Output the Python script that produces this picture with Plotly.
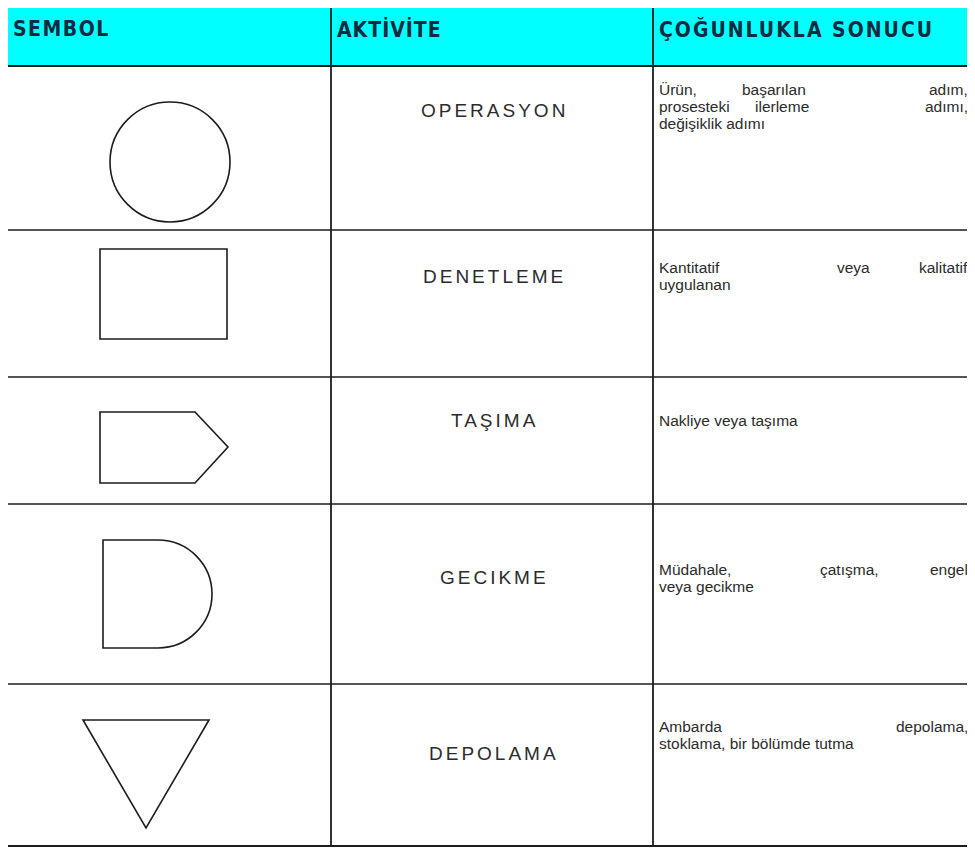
import plotly.graph_objects as go

# ---------------- data ----------------
headers = ["SEMBOL", "AKTİVİTE", "ÇOĞUNLUKLA SONUCU"]
symbols = ["circle", "rect", "pentagon", "delay", "triangle"]
activities = ["OPERASYON", "DENETLEME", "TAŞIMA", "GECIKME", "DEPOLAMA"]
results = [
    ["Ürün, başarılan adım,", "prosesteki ilerleme adımı,", "değişiklik adımı"],
    ["Kantitatif veya kalitatif", "uygulanan"],
    ["Nakliye veya taşıma"],
    ["Müdahale, çatışma, engel", "veya gecikme"],
    ["Ambarda depolama,", "stoklama, bir bölümde tutma"],
]

# ---------------- layout / geometry ----------------
W, H = 975, 848
OFF = 8  # page body margin compensation
col_x = [7, 331, 653, 974]
row_y = [3, 66, 230, 377, 504, 684, 846]
act_y = [110, 276, 420, 577, 753]
res_y = [89, 267, 420, 569, 726]
line_h = 17
res_x0, res_x1 = 657, 970
# left x of the middle words of justified lines (layout of the original spacing)
mid_word_x = [[[740], [753]], [[835]], [], [[818]], [[]]]
RES_FS = 15.5

LINE = "#1c1c1c"
TXT = "#2b2b2b"
HDR_TXT = "#0d2b40"
CYAN = "#00ffff"

shapes = []
annotations = []

# header background
shapes.append(dict(type="rect", xref="x", yref="y", x0=col_x[0], x1=col_x[-1],
                   y0=row_y[0], y1=row_y[1], fillcolor=CYAN, line=dict(width=0), layer="below"))

# grid lines
for i, y in enumerate(row_y):
    shapes.append(dict(type="line", x0=col_x[0], x1=col_x[-1], y0=y, y1=y,
                       line=dict(color=LINE, width=2 if i in (0, 1, len(row_y) - 1) else 1.7)))
for x in col_x:
    shapes.append(dict(type="line", x0=x, x1=x, y0=row_y[0], y1=row_y[-1],
                       line=dict(color=LINE, width=1.8)))

# header texts
hdr_ls = [1.5, 1.0, 2.0]
for i, h in enumerate(headers):
    annotations.append(dict(
        x=col_x[i] + 4, y=29, xref="x", yref="y", xanchor="left", yanchor="middle",
        text=f"<span style='letter-spacing:{hdr_ls[i]}px'><b>{h}</b></span>", showarrow=False,
        font=dict(family="Liberation Sans Narrow, DejaVu Sans Condensed, Liberation Sans",
                  size=21, color=HDR_TXT)))

# symbols
sym_style = dict(color=LINE, width=1.6)
k = 0.5523
for s in symbols:
    if s == "circle":
        shapes.append(dict(type="circle", x0=110, x1=230, y0=102, y1=222, line=sym_style))
    elif s == "rect":
        shapes.append(dict(type="rect", x0=100, x1=227, y0=249, y1=339, line=sym_style))
    elif s == "pentagon":
        shapes.append(dict(type="path", path="M100,412 L195,412 L228,447 L195,483 L100,483 Z",
                           line=sym_style))
    elif s == "delay":
        r = 54
        cx, cy = 158, 594
        p = (f"M103,{cy - r} L{cx},{cy - r} "
             f"C{cx + k * r},{cy - r} {cx + r},{cy - k * r} {cx + r},{cy} "
             f"C{cx + r},{cy + k * r} {cx + k * r},{cy + r} {cx},{cy + r} "
             f"L103,{cy + r} Z")
        shapes.append(dict(type="path", path=p, line=sym_style))
    elif s == "triangle":
        shapes.append(dict(type="path", path="M83,720 L209,720 L146,828 Z", line=sym_style))

# activity texts
mid = (col_x[1] + col_x[2]) / 2
for a, y in zip(activities, act_y):
    annotations.append(dict(
        x=mid + 2, y=y, xref="x", yref="y", xanchor="center", yanchor="middle",
        text=f"<span style='letter-spacing:3px'>{a}</span>", showarrow=False,
        font=dict(family="Liberation Sans, Arial", size=19, color=TXT)))

# result texts (justified like the original)
for lines, y0, mids in zip(results, res_y, mid_word_x):
    for li, line in enumerate(lines):
        y = y0 + li * line_h
        font = dict(family="Liberation Sans, Arial", size=RES_FS, color=TXT)
        words = line.split(" ")
        justified = li < len(mids) and len(words) > 1
        if not justified:
            annotations.append(dict(x=res_x0, y=y, xref="x", yref="y", xanchor="left",
                                    yanchor="middle", text=line, showarrow=False, font=font))
            continue
        xs = [res_x0] + mids[li]
        for wi, w in enumerate(words):
            if wi == len(words) - 1:
                annotations.append(dict(x=res_x1, y=y, xref="x", yref="y", xanchor="right",
                                        yanchor="middle", text=w, showarrow=False, font=font))
            else:
                annotations.append(dict(x=xs[wi], y=y, xref="x", yref="y", xanchor="left",
                                        yanchor="middle", text=w, showarrow=False, font=font))

fig = go.Figure()
fig.update_layout(
    width=W, height=H, margin=dict(l=0, r=0, t=0, b=0),
    paper_bgcolor="white", plot_bgcolor="white",
    xaxis=dict(range=[OFF, W + OFF], visible=False, fixedrange=True),
    yaxis=dict(range=[H + OFF, OFF], visible=False, fixedrange=True),
    shapes=shapes, annotations=annotations, showlegend=False,
)
fig.write_html("out.html")
